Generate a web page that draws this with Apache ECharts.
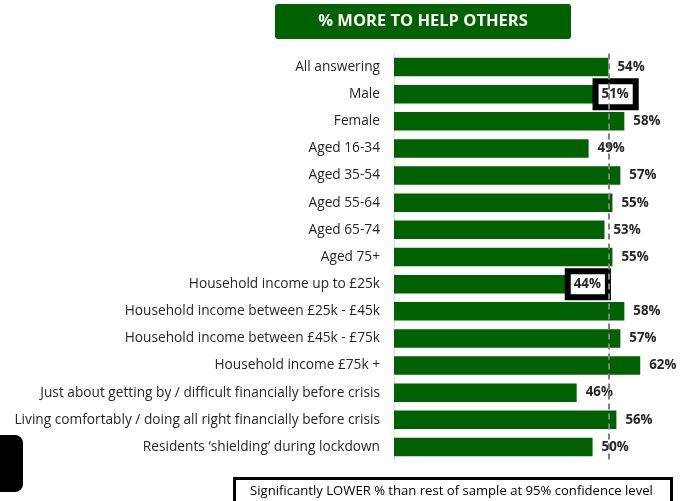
<!DOCTYPE html>
<html>
<head>
<meta charset="utf-8">
<script src="https://cdn.jsdelivr.net/npm/echarts@6/dist/echarts.min.js"></script>
<style>
html,body{margin:0;padding:0;background:#fff;}
#chart{width:683px;height:501px;}
</style>
</head>
<body>
<div id="chart"></div>
<script>
const categories = [
  "All answering",
  "Male",
  "Female",
  "Aged 16-34",
  "Aged 35-54",
  "Aged 55-64",
  "Aged 65-74",
  "Aged 75+",
  "Household income up to £25k",
  "Household income between £25k - £45k",
  "Household income between £45k - £75k",
  "Household income £75k +",
  "Just about getting by / difficult financially before crisis",
  "Living comfortably / doing all right financially before crisis",
  "Residents \u2018shielding\u2019 during lockdown"
];
const values = [54, 51, 58, 49, 57, 55, 53, 55, 44, 58, 57, 62, 46, 56, 50];
const significantlyLower = [false, true, false, false, false, false, false, false, true, false, false, false, false, false, false];
const referenceValue = 54;
const titleText = "% MORE TO HELP OTHERS";
const legendText = "Significantly LOWER % than rest of sample at 95% confidence level";

const FONT = "Open Sans";
const GREEN = "#006100";

const chart = echarts.init(document.getElementById('chart'), null, {renderer: 'canvas'});

const seriesData = values.map((v, i) => {
  const item = {value: v};
  if (significantlyLower[i]) {
    item.label = {
      distance: -1,
      borderColor: '#000',
      borderWidth: 3,
      padding: [7, 7, 6, 6],
      backgroundColor: 'transparent'
    };
  }
  return item;
});

const option = {
  animation: false,
  textStyle: {fontFamily: FONT},
  grid: {left: 394, right: 11, top: 53.5, bottom: 40.5, containLabel: false},
  xAxis: {
    type: 'value', min: 0, max: 70, show: false,
    splitLine: {show: false}
  },
  yAxis: {
    type: 'category',
    inverse: true,
    data: categories,
    axisLine: {show: true, lineStyle: {color: '#d9d9d9', width: 1}},
    axisTick: {show: false},
    axisLabel: {fontFamily: FONT, fontSize: 13.7, color: '#262626', margin: 14}
  },
  series: [{
    type: 'bar',
    data: seriesData,
    barWidth: 18.5,
    itemStyle: {color: GREEN},
    label: {
      show: true,
      position: 'right',
      distance: 9,
      formatter: '{c}%',
      fontFamily: FONT,
      fontSize: 13.3,
      fontWeight: 'bold',
      color: '#262626'
    },
    markLine: {
      silent: true,
      symbol: 'none',
      label: {show: false},
      lineStyle: {color: '#808080', type: [6, 4], width: 2},
      data: [{xAxis: referenceValue}]
    },
    z: 2
  }],
  graphic: [
    {
      type: 'rect', left: 275, top: 4,
      shape: {width: 296, height: 35, r: 3},
      style: {fill: GREEN}
    },
    {
      type: 'text', x: 423, y: 21.5,
      style: {text: titleText, fill: '#fff', font: 'bold 16.5px ' + FONT, align: 'center', verticalAlign: 'middle'}
    },
    {
      type: 'rect', left: 233, top: 477,
      shape: {width: 437, height: 40},
      style: {fill: '#fff', stroke: '#000', lineWidth: 3}
    },
    {
      type: 'text', x: 451.5, y: 491.5,
      style: {text: legendText, fill: '#000', font: '13.1px ' + FONT, align: 'center', verticalAlign: 'middle'}
    },
    {
      type: 'rect', left: -10, top: 435,
      shape: {width: 33, height: 57, r: 8},
      style: {fill: '#000'}
    }
  ]
};
chart.setOption(option);
</script>
</body>
</html>
